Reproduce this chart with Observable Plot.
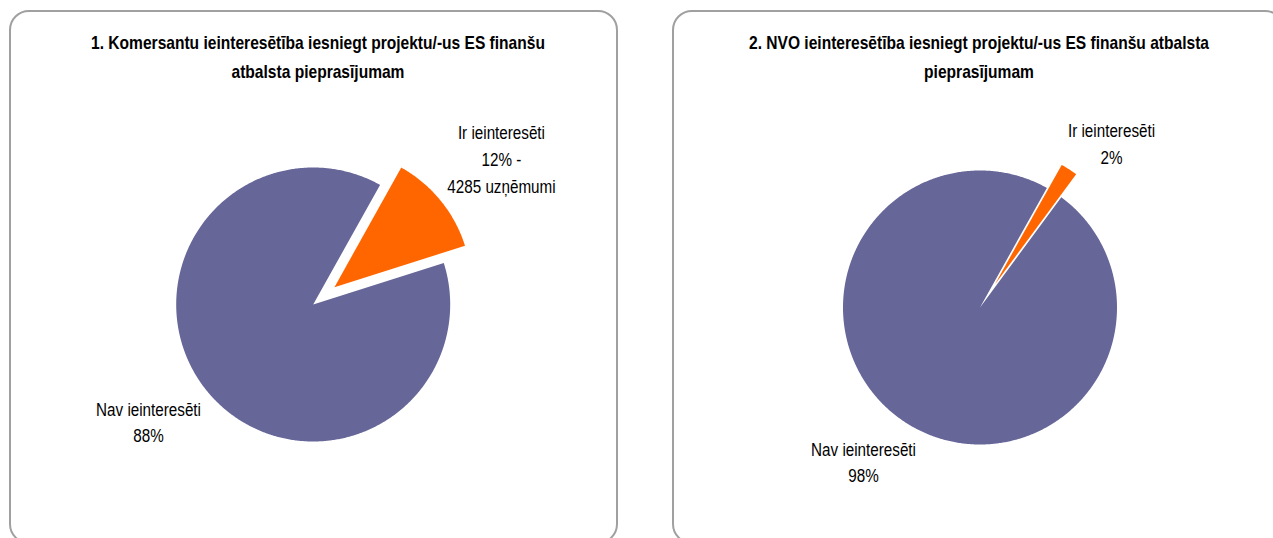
<!DOCTYPE html>
<html><head><meta charset="utf-8">
<script src="https://cdn.jsdelivr.net/npm/d3@7"></script>
<script src="https://cdn.jsdelivr.net/npm/@observablehq/plot@0.6"></script>
<style>
body{margin:0;background:#fff;}
#page{position:relative;width:1273px;height:538px;overflow:hidden;background:#fff;}
.panel{position:absolute;box-sizing:border-box;border:2px solid #a0a0a0;border-radius:20px;}
.chart{position:absolute;}
</style></head><body><div id="page"></div>
<script>
// ---- data ----
const categories = ["Ir ieinteresēti", "Nav ieinteresēti"];
const titles = [
  "1. Komersantu ieinteresētība iesniegt projektu/-us ES finanšu\natbalsta pieprasījumam",
  "2. NVO ieinteresētība iesniegt projektu/-us ES finanšu atbalsta\npieprasījumam"
];
const komersantiValues = [12, 88];
const nvoValues = [2, 98];
const komersantiCount = 4285;
const komersantiLabels = ["Ir ieinteresēti\n12% -\n" + komersantiCount + " uzņēmumi", "Nav ieinteresēti\n88%"];
const nvoLabels = ["Ir ieinteresēti\n2%", "Nav ieinteresēti\n98%"];
const colors = ["#FF6600", "#666699"];

// ---- render ----
const FONT = "'Liberation Sans Narrow','Arial Narrow','Liberation Sans',Arial,sans-serif";
function narrow(svg, selector, s) {
  svg.querySelectorAll(selector).forEach(t => {
    const tr = t.getAttribute("transform");
    if (tr) t.setAttribute("transform", tr + ` scale(${s},1)`);
    else {
      const x = +t.getAttribute("x") || 0, y = +t.getAttribute("y") || 0;
      t.setAttribute("transform", `translate(${x},${y}) scale(${s},1) translate(${-x},${-y})`);
    }
  });
}
function pieChart({values, labels, title, left, top, width, height, cx, cy, labelXY, titleDx}) {
  const page = document.getElementById("page");
  const panel = document.createElement("div");
  panel.className = "panel";
  Object.assign(panel.style, {left: left + "px", top: top + "px", width: width + "px", height: height + "px"});
  page.appendChild(panel);

  const R = 137;
  const start = 29.2 * Math.PI / 180;
  const explode = 0.2;
  const arcs = d3.pie().sort(null).startAngle(start).endAngle(start + 2 * Math.PI)(values);
  const pts = [];
  arcs.forEach((a, i) => {
    const off = i === 0 ? explode : 0;
    const mid = (a.startAngle + a.endAngle) / 2;
    const ox = off * Math.sin(mid), oy = off * Math.cos(mid);
    const cat = categories[i];
    pts.push({cat, x: ox, y: oy});
    const n = Math.max(2, Math.ceil((a.endAngle - a.startAngle) / (Math.PI / 360)));
    for (let k = 0; k <= n; k++) {
      const t = a.startAngle + (a.endAngle - a.startAngle) * k / n;
      pts.push({cat, x: ox + Math.sin(t), y: oy + Math.cos(t)});
    }
    pts.push({cat, x: ox, y: oy});
  });
  const labelData = labels.map((t, i) => ({text: t, x: labelXY[i][0], y: labelXY[i][1]}));

  const svg = Plot.plot({
    width, height, margin: 0,
    style: {fontFamily: FONT, background: "transparent", color: "#000"},
    x: {domain: [-cx / R, (width - cx) / R], axis: null},
    y: {domain: [-(height - cy) / R, cy / R], axis: null},
    color: {domain: categories, range: colors},
    marks: [
      Plot.line(pts, {x: "x", y: "y", z: "cat", fill: "cat", stroke: "none"}),
      Plot.text(labelData, {x: "x", y: "y", text: "text", textAnchor: "middle", lineAnchor: "middle",
        fontSize: 17.5, lineHeight: 1.52, fill: "#000", className: "pielabel"}),
      Plot.text([title], {text: d => d, frameAnchor: "top", dy: 44, dx: titleDx, lineAnchor: "middle",
        fontSize: 17.5, fontWeight: "bold", lineHeight: 1.65, fill: "#000", className: "pietitle"})
    ]
  });
  narrow(svg, ".pielabel text", 0.87);
  narrow(svg, ".pietitle text", 0.89);
  svg.classList.add("chart");
  svg.style.left = left + "px";
  svg.style.top = top + "px";
  page.appendChild(svg);
}

pieChart({values: komersantiValues, labels: komersantiLabels, title: titles[0],
  left: 9, top: 10, width: 609, height: 534, cx: 303.7, cy: 294,
  labelXY: [[1.374, 1.073], [-1.202, -0.847]], titleDx: 4});
pieChart({values: nvoValues, labels: nvoLabels, title: titles[1],
  left: 672, top: 10, width: 613, height: 534, cx: 307.5, cy: 297,
  labelXY: [[0.960, 1.208], [-0.850, -1.117]], titleDx: 0});
</script></body></html>
